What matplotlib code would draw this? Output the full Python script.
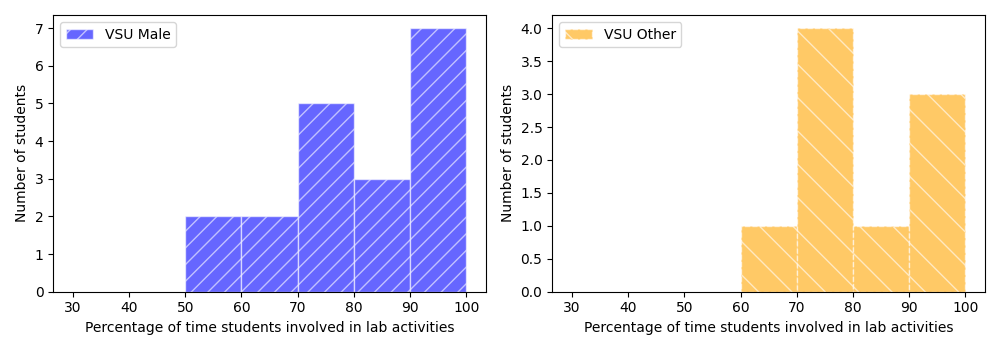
import matplotlib
matplotlib.use("Agg")
import matplotlib.pyplot as plt
import numpy as np

bins = [30, 40, 50, 60, 70, 80, 90, 100]
male_counts = [0, 0, 2, 2, 5, 3, 7]
other_counts = [0, 0, 0, 1, 4, 1, 3]
xticks = [30, 40, 50, 60, 70, 80, 90, 100]

fig, axes = plt.subplots(1, 2, figsize=(10, 3.5), dpi=100)
centers = np.array(bins[:-1]) + 5

ax = axes[0]
ax.hist(centers, bins=bins, weights=male_counts, color='blue', alpha=0.6,
        edgecolor='white', hatch='//', label='VSU Male')
ax.set_xticks(xticks)
ax.set_xlabel('Percentage of time students involved in lab activities')
ax.set_ylabel('Number of students')
ax.legend(loc='upper left')

ax = axes[1]
ax.hist(centers, bins=bins, weights=other_counts, color='orange', alpha=0.6,
        edgecolor='white', hatch='\\', linestyle='--', label='VSU Other')
ax.set_xticks(xticks)
ax.set_xlabel('Percentage of time students involved in lab activities')
ax.set_ylabel('Number of students')
ax.legend(loc='upper left')

fig.tight_layout()
fig.savefig('out.png')
